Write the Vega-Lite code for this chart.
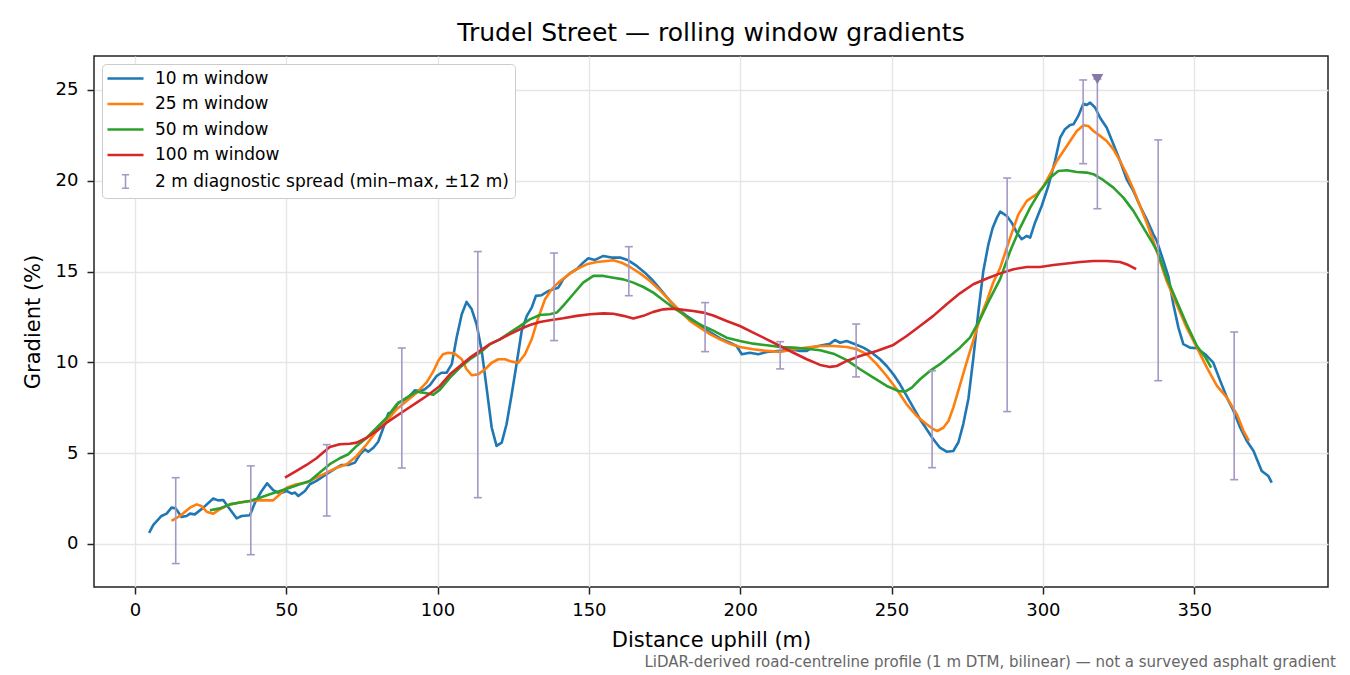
{
  "$schema": "https://vega.github.io/schema/vega-lite/v6.json",
  "padding": {"left": 21, "top": 20, "right": 14, "bottom": 4},
  "background": "white",
  "title": {
    "text": "LiDAR-derived road-centreline profile (1 m DTM, bilinear) — not a surveyed asphalt gradient",
    "orient": "bottom",
    "anchor": "end",
    "frame": "group",
    "fontSize": 15,
    "fontWeight": "normal",
    "color": "#666666",
    "dx": 8,
    "offset": 4
  },
  "datasets": {
    "lines": [
      {"s": "10 m window", "d": 4.7, "g": 0.61}, {"s": "10 m window", "d": 6.1, "g": 1.05}, {"s": "10 m window", "d": 8.8, "g": 1.54},
      {"s": "10 m window", "d": 10.5, "g": 1.67}, {"s": "10 m window", "d": 12.1, "g": 2.0}, {"s": "10 m window", "d": 13.5, "g": 1.96},
      {"s": "10 m window", "d": 15.4, "g": 1.49}, {"s": "10 m window", "d": 17.1, "g": 1.54}, {"s": "10 m window", "d": 18.2, "g": 1.67},
      {"s": "10 m window", "d": 19.8, "g": 1.63}, {"s": "10 m window", "d": 22.6, "g": 2.0}, {"s": "10 m window", "d": 25.9, "g": 2.5},
      {"s": "10 m window", "d": 27.5, "g": 2.4}, {"s": "10 m window", "d": 29.2, "g": 2.42}, {"s": "10 m window", "d": 31.4, "g": 1.91},
      {"s": "10 m window", "d": 33.6, "g": 1.41}, {"s": "10 m window", "d": 35.3, "g": 1.54}, {"s": "10 m window", "d": 38.0, "g": 1.58},
      {"s": "10 m window", "d": 39.7, "g": 2.28}, {"s": "10 m window", "d": 41.9, "g": 2.92}, {"s": "10 m window", "d": 43.7, "g": 3.34},
      {"s": "10 m window", "d": 45.7, "g": 2.96}, {"s": "10 m window", "d": 47.9, "g": 2.77}, {"s": "10 m window", "d": 50.1, "g": 2.92},
      {"s": "10 m window", "d": 51.8, "g": 2.77}, {"s": "10 m window", "d": 52.9, "g": 2.83}, {"s": "10 m window", "d": 54.0, "g": 2.64},
      {"s": "10 m window", "d": 56.2, "g": 2.92}, {"s": "10 m window", "d": 57.8, "g": 3.29}, {"s": "10 m window", "d": 60.0, "g": 3.47},
      {"s": "10 m window", "d": 63.3, "g": 3.84}, {"s": "10 m window", "d": 66.7, "g": 4.2}, {"s": "10 m window", "d": 68.3, "g": 4.35},
      {"s": "10 m window", "d": 70.5, "g": 4.35}, {"s": "10 m window", "d": 72.7, "g": 4.48}, {"s": "10 m window", "d": 74.4, "g": 4.94},
      {"s": "10 m window", "d": 76.0, "g": 5.21}, {"s": "10 m window", "d": 77.1, "g": 5.08}, {"s": "10 m window", "d": 78.8, "g": 5.3},
      {"s": "10 m window", "d": 80.4, "g": 5.63}, {"s": "10 m window", "d": 82.1, "g": 6.4}, {"s": "10 m window", "d": 83.7, "g": 7.18},
      {"s": "10 m window", "d": 85.4, "g": 7.29}, {"s": "10 m window", "d": 87.0, "g": 7.78}, {"s": "10 m window", "d": 88.7, "g": 7.91},
      {"s": "10 m window", "d": 90.3, "g": 8.06}, {"s": "10 m window", "d": 92.5, "g": 8.46}, {"s": "10 m window", "d": 94.2, "g": 8.42},
      {"s": "10 m window", "d": 95.8, "g": 8.52}, {"s": "10 m window", "d": 97.5, "g": 8.75}, {"s": "10 m window", "d": 99.7, "g": 9.25},
      {"s": "10 m window", "d": 101.3, "g": 9.43}, {"s": "10 m window", "d": 103.0, "g": 9.43}, {"s": "10 m window", "d": 104.7, "g": 9.9},
      {"s": "10 m window", "d": 106.3, "g": 11.36}, {"s": "10 m window", "d": 108.0, "g": 12.65}, {"s": "10 m window", "d": 109.6, "g": 13.33},
      {"s": "10 m window", "d": 111.3, "g": 12.92}, {"s": "10 m window", "d": 112.9, "g": 12.1}, {"s": "10 m window", "d": 114.6, "g": 10.63},
      {"s": "10 m window", "d": 116.2, "g": 8.61}, {"s": "10 m window", "d": 117.9, "g": 6.4}, {"s": "10 m window", "d": 119.5, "g": 5.4},
      {"s": "10 m window", "d": 121.2, "g": 5.58}, {"s": "10 m window", "d": 122.8, "g": 6.59}, {"s": "10 m window", "d": 124.5, "g": 8.24},
      {"s": "10 m window", "d": 126.1, "g": 9.9}, {"s": "10 m window", "d": 127.8, "g": 11.73}, {"s": "10 m window", "d": 129.5, "g": 12.56},
      {"s": "10 m window", "d": 131.1, "g": 13.01}, {"s": "10 m window", "d": 132.5, "g": 13.66}, {"s": "10 m window", "d": 134.4, "g": 13.7},
      {"s": "10 m window", "d": 136.6, "g": 13.93}, {"s": "10 m window", "d": 138.2, "g": 14.02}, {"s": "10 m window", "d": 139.9, "g": 14.11},
      {"s": "10 m window", "d": 141.5, "g": 14.57}, {"s": "10 m window", "d": 143.7, "g": 14.9}, {"s": "10 m window", "d": 146.0, "g": 15.13},
      {"s": "10 m window", "d": 148.1, "g": 15.49}, {"s": "10 m window", "d": 149.8, "g": 15.73}, {"s": "10 m window", "d": 152.0, "g": 15.64},
      {"s": "10 m window", "d": 154.8, "g": 15.86}, {"s": "10 m window", "d": 157.5, "g": 15.77}, {"s": "10 m window", "d": 160.3, "g": 15.77},
      {"s": "10 m window", "d": 163.0, "g": 15.62}, {"s": "10 m window", "d": 165.8, "g": 15.31}, {"s": "10 m window", "d": 168.5, "g": 14.94},
      {"s": "10 m window", "d": 171.3, "g": 14.48}, {"s": "10 m window", "d": 174.1, "g": 13.93}, {"s": "10 m window", "d": 176.8, "g": 13.38},
      {"s": "10 m window", "d": 179.5, "g": 12.92}, {"s": "10 m window", "d": 182.3, "g": 12.56}, {"s": "10 m window", "d": 185.6, "g": 12.19},
      {"s": "10 m window", "d": 188.4, "g": 11.82}, {"s": "10 m window", "d": 191.1, "g": 11.55}, {"s": "10 m window", "d": 193.9, "g": 11.27},
      {"s": "10 m window", "d": 196.6, "g": 11.08}, {"s": "10 m window", "d": 198.8, "g": 10.9}, {"s": "10 m window", "d": 200.5, "g": 10.45},
      {"s": "10 m window", "d": 203.2, "g": 10.53}, {"s": "10 m window", "d": 206.0, "g": 10.45}, {"s": "10 m window", "d": 208.8, "g": 10.57},
      {"s": "10 m window", "d": 213.2, "g": 10.63}, {"s": "10 m window", "d": 216.5, "g": 10.72}, {"s": "10 m window", "d": 219.8, "g": 10.63},
      {"s": "10 m window", "d": 222.0, "g": 10.63}, {"s": "10 m window", "d": 224.2, "g": 10.85}, {"s": "10 m window", "d": 227.5, "g": 10.96},
      {"s": "10 m window", "d": 229.7, "g": 11.03}, {"s": "10 m window", "d": 231.3, "g": 11.23}, {"s": "10 m window", "d": 233.0, "g": 11.08},
      {"s": "10 m window", "d": 235.2, "g": 11.18}, {"s": "10 m window", "d": 238.0, "g": 11.0}, {"s": "10 m window", "d": 240.7, "g": 10.81},
      {"s": "10 m window", "d": 243.5, "g": 10.53}, {"s": "10 m window", "d": 246.2, "g": 10.17}, {"s": "10 m window", "d": 248.4, "g": 9.8},
      {"s": "10 m window", "d": 250.6, "g": 9.34}, {"s": "10 m window", "d": 252.8, "g": 8.79}, {"s": "10 m window", "d": 255.0, "g": 8.15},
      {"s": "10 m window", "d": 257.2, "g": 7.51}, {"s": "10 m window", "d": 259.4, "g": 6.87}, {"s": "10 m window", "d": 261.6, "g": 6.32},
      {"s": "10 m window", "d": 263.8, "g": 5.77}, {"s": "10 m window", "d": 266.0, "g": 5.3}, {"s": "10 m window", "d": 268.2, "g": 5.08},
      {"s": "10 m window", "d": 270.4, "g": 5.12}, {"s": "10 m window", "d": 272.1, "g": 5.6}, {"s": "10 m window", "d": 273.7, "g": 6.6},
      {"s": "10 m window", "d": 275.4, "g": 8.0}, {"s": "10 m window", "d": 277.0, "g": 10.2}, {"s": "10 m window", "d": 278.7, "g": 12.8},
      {"s": "10 m window", "d": 280.3, "g": 15.0}, {"s": "10 m window", "d": 282.0, "g": 16.5}, {"s": "10 m window", "d": 283.4, "g": 17.4},
      {"s": "10 m window", "d": 284.9, "g": 18.0}, {"s": "10 m window", "d": 285.9, "g": 18.3}, {"s": "10 m window", "d": 288.1, "g": 18.06},
      {"s": "10 m window", "d": 289.7, "g": 17.69}, {"s": "10 m window", "d": 291.4, "g": 17.14}, {"s": "10 m window", "d": 293.0, "g": 16.78},
      {"s": "10 m window", "d": 294.7, "g": 16.96}, {"s": "10 m window", "d": 295.8, "g": 16.87}, {"s": "10 m window", "d": 297.4, "g": 17.69},
      {"s": "10 m window", "d": 299.6, "g": 18.61}, {"s": "10 m window", "d": 301.8, "g": 19.71}, {"s": "10 m window", "d": 304.0, "g": 21.09},
      {"s": "10 m window", "d": 305.7, "g": 22.37}, {"s": "10 m window", "d": 307.3, "g": 22.84}, {"s": "10 m window", "d": 309.0, "g": 23.07},
      {"s": "10 m window", "d": 310.1, "g": 23.11}, {"s": "10 m window", "d": 311.7, "g": 23.57}, {"s": "10 m window", "d": 313.4, "g": 24.25},
      {"s": "10 m window", "d": 314.5, "g": 24.17}, {"s": "10 m window", "d": 315.6, "g": 24.3}, {"s": "10 m window", "d": 317.3, "g": 24.02},
      {"s": "10 m window", "d": 318.9, "g": 23.47}, {"s": "10 m window", "d": 321.1, "g": 22.92}, {"s": "10 m window", "d": 323.3, "g": 22.01},
      {"s": "10 m window", "d": 325.5, "g": 21.09}, {"s": "10 m window", "d": 327.7, "g": 20.08}, {"s": "10 m window", "d": 329.9, "g": 19.44},
      {"s": "10 m window", "d": 332.1, "g": 18.61}, {"s": "10 m window", "d": 334.3, "g": 17.88}, {"s": "10 m window", "d": 336.5, "g": 17.05},
      {"s": "10 m window", "d": 337.6, "g": 16.7}, {"s": "10 m window", "d": 339.8, "g": 15.6}, {"s": "10 m window", "d": 341.5, "g": 14.7},
      {"s": "10 m window", "d": 343.1, "g": 13.2}, {"s": "10 m window", "d": 344.8, "g": 11.9}, {"s": "10 m window", "d": 346.4, "g": 11.0},
      {"s": "10 m window", "d": 348.6, "g": 10.81}, {"s": "10 m window", "d": 350.9, "g": 10.78}, {"s": "10 m window", "d": 353.6, "g": 10.45},
      {"s": "10 m window", "d": 356.3, "g": 9.98}, {"s": "10 m window", "d": 358.6, "g": 8.98}, {"s": "10 m window", "d": 360.8, "g": 8.06},
      {"s": "10 m window", "d": 363.0, "g": 7.32}, {"s": "10 m window", "d": 365.2, "g": 6.4}, {"s": "10 m window", "d": 367.4, "g": 5.67},
      {"s": "10 m window", "d": 369.6, "g": 5.12}, {"s": "10 m window", "d": 372.3, "g": 4.02}, {"s": "10 m window", "d": 374.5, "g": 3.74},
      {"s": "10 m window", "d": 375.6, "g": 3.38},

      {"s": "25 m window", "d": 12.1, "g": 1.27}, {"s": "25 m window", "d": 14.9, "g": 1.54}, {"s": "25 m window", "d": 18.2, "g": 2.0},
      {"s": "25 m window", "d": 20.4, "g": 2.18}, {"s": "25 m window", "d": 22.0, "g": 2.09}, {"s": "25 m window", "d": 23.7, "g": 1.78},
      {"s": "25 m window", "d": 25.9, "g": 1.67}, {"s": "25 m window", "d": 28.1, "g": 1.91}, {"s": "25 m window", "d": 31.4, "g": 2.18},
      {"s": "25 m window", "d": 34.7, "g": 2.28}, {"s": "25 m window", "d": 38.0, "g": 2.37}, {"s": "25 m window", "d": 41.3, "g": 2.4},
      {"s": "25 m window", "d": 45.7, "g": 2.4}, {"s": "25 m window", "d": 47.9, "g": 2.74}, {"s": "25 m window", "d": 50.1, "g": 3.1},
      {"s": "25 m window", "d": 53.4, "g": 3.29}, {"s": "25 m window", "d": 56.7, "g": 3.38}, {"s": "25 m window", "d": 60.0, "g": 3.65},
      {"s": "25 m window", "d": 63.4, "g": 3.93}, {"s": "25 m window", "d": 66.7, "g": 4.2}, {"s": "25 m window", "d": 70.0, "g": 4.39},
      {"s": "25 m window", "d": 73.3, "g": 4.85}, {"s": "25 m window", "d": 76.6, "g": 5.49}, {"s": "25 m window", "d": 79.9, "g": 6.22},
      {"s": "25 m window", "d": 83.2, "g": 6.77}, {"s": "25 m window", "d": 86.5, "g": 7.42}, {"s": "25 m window", "d": 89.8, "g": 7.87},
      {"s": "25 m window", "d": 93.1, "g": 8.33}, {"s": "25 m window", "d": 96.4, "g": 8.9}, {"s": "25 m window", "d": 98.6, "g": 9.5},
      {"s": "25 m window", "d": 100.3, "g": 10.1}, {"s": "25 m window", "d": 101.8, "g": 10.45}, {"s": "25 m window", "d": 103.5, "g": 10.53},
      {"s": "25 m window", "d": 105.7, "g": 10.48}, {"s": "25 m window", "d": 108.0, "g": 10.17}, {"s": "25 m window", "d": 109.6, "g": 9.62},
      {"s": "25 m window", "d": 111.3, "g": 9.29}, {"s": "25 m window", "d": 113.4, "g": 9.34}, {"s": "25 m window", "d": 115.7, "g": 9.62},
      {"s": "25 m window", "d": 117.9, "g": 9.98}, {"s": "25 m window", "d": 120.1, "g": 10.17}, {"s": "25 m window", "d": 122.3, "g": 10.17},
      {"s": "25 m window", "d": 124.5, "g": 10.04}, {"s": "25 m window", "d": 126.7, "g": 9.98}, {"s": "25 m window", "d": 128.9, "g": 10.45},
      {"s": "25 m window", "d": 131.1, "g": 11.27}, {"s": "25 m window", "d": 133.3, "g": 12.46}, {"s": "25 m window", "d": 135.5, "g": 13.47},
      {"s": "25 m window", "d": 137.7, "g": 14.02}, {"s": "25 m window", "d": 139.9, "g": 14.39}, {"s": "25 m window", "d": 142.7, "g": 14.76},
      {"s": "25 m window", "d": 146.0, "g": 15.13}, {"s": "25 m window", "d": 149.3, "g": 15.4}, {"s": "25 m window", "d": 152.6, "g": 15.53},
      {"s": "25 m window", "d": 155.9, "g": 15.58}, {"s": "25 m window", "d": 158.1, "g": 15.62}, {"s": "25 m window", "d": 160.8, "g": 15.49},
      {"s": "25 m window", "d": 163.6, "g": 15.25}, {"s": "25 m window", "d": 166.9, "g": 14.9}, {"s": "25 m window", "d": 170.2, "g": 14.48},
      {"s": "25 m window", "d": 173.5, "g": 13.97}, {"s": "25 m window", "d": 176.8, "g": 13.38}, {"s": "25 m window", "d": 180.1, "g": 12.83},
      {"s": "25 m window", "d": 183.4, "g": 12.28}, {"s": "25 m window", "d": 186.7, "g": 11.91}, {"s": "25 m window", "d": 190.0, "g": 11.55},
      {"s": "25 m window", "d": 193.3, "g": 11.27}, {"s": "25 m window", "d": 196.6, "g": 11.02}, {"s": "25 m window", "d": 199.9, "g": 10.85},
      {"s": "25 m window", "d": 204.3, "g": 10.72}, {"s": "25 m window", "d": 208.8, "g": 10.63}, {"s": "25 m window", "d": 213.2, "g": 10.57},
      {"s": "25 m window", "d": 217.6, "g": 10.72}, {"s": "25 m window", "d": 222.0, "g": 10.81}, {"s": "25 m window", "d": 226.4, "g": 10.9},
      {"s": "25 m window", "d": 230.8, "g": 10.9}, {"s": "25 m window", "d": 235.2, "g": 10.85}, {"s": "25 m window", "d": 238.5, "g": 10.72},
      {"s": "25 m window", "d": 241.8, "g": 10.45}, {"s": "25 m window", "d": 245.1, "g": 9.9}, {"s": "25 m window", "d": 248.4, "g": 9.25},
      {"s": "25 m window", "d": 251.7, "g": 8.52}, {"s": "25 m window", "d": 255.0, "g": 7.69}, {"s": "25 m window", "d": 258.3, "g": 7.05},
      {"s": "25 m window", "d": 261.6, "g": 6.59}, {"s": "25 m window", "d": 263.8, "g": 6.32}, {"s": "25 m window", "d": 265.1, "g": 6.22},
      {"s": "25 m window", "d": 267.1, "g": 6.4}, {"s": "25 m window", "d": 268.8, "g": 6.77}, {"s": "25 m window", "d": 270.4, "g": 7.51},
      {"s": "25 m window", "d": 272.6, "g": 8.75}, {"s": "25 m window", "d": 274.8, "g": 10.0}, {"s": "25 m window", "d": 277.0, "g": 11.2},
      {"s": "25 m window", "d": 279.2, "g": 12.4}, {"s": "25 m window", "d": 281.5, "g": 13.4}, {"s": "25 m window", "d": 283.6, "g": 14.4},
      {"s": "25 m window", "d": 285.9, "g": 15.21}, {"s": "25 m window", "d": 289.2, "g": 16.87}, {"s": "25 m window", "d": 291.9, "g": 18.15},
      {"s": "25 m window", "d": 294.7, "g": 18.89}, {"s": "25 m window", "d": 298.0, "g": 19.26}, {"s": "25 m window", "d": 300.2, "g": 19.71},
      {"s": "25 m window", "d": 302.4, "g": 20.36}, {"s": "25 m window", "d": 304.6, "g": 21.09}, {"s": "25 m window", "d": 306.8, "g": 21.64},
      {"s": "25 m window", "d": 309.0, "g": 22.19}, {"s": "25 m window", "d": 311.2, "g": 22.74}, {"s": "25 m window", "d": 313.4, "g": 23.06},
      {"s": "25 m window", "d": 315.0, "g": 23.02}, {"s": "25 m window", "d": 316.7, "g": 22.74}, {"s": "25 m window", "d": 318.9, "g": 22.47},
      {"s": "25 m window", "d": 321.1, "g": 22.19}, {"s": "25 m window", "d": 323.3, "g": 21.73}, {"s": "25 m window", "d": 325.5, "g": 21.09},
      {"s": "25 m window", "d": 327.7, "g": 20.36}, {"s": "25 m window", "d": 329.9, "g": 19.53}, {"s": "25 m window", "d": 332.1, "g": 18.61},
      {"s": "25 m window", "d": 334.3, "g": 17.69}, {"s": "25 m window", "d": 336.5, "g": 16.68}, {"s": "25 m window", "d": 338.7, "g": 15.58},
      {"s": "25 m window", "d": 340.9, "g": 14.48}, {"s": "25 m window", "d": 344.2, "g": 13.2}, {"s": "25 m window", "d": 347.5, "g": 11.91},
      {"s": "25 m window", "d": 350.9, "g": 10.81}, {"s": "25 m window", "d": 354.2, "g": 9.71}, {"s": "25 m window", "d": 357.5, "g": 8.7},
      {"s": "25 m window", "d": 360.8, "g": 8.06}, {"s": "25 m window", "d": 364.1, "g": 7.14}, {"s": "25 m window", "d": 366.3, "g": 6.22},
      {"s": "25 m window", "d": 368.1, "g": 5.67},

      {"s": "50 m window", "d": 24.8, "g": 1.86}, {"s": "50 m window", "d": 28.1, "g": 1.96}, {"s": "50 m window", "d": 31.4, "g": 2.18},
      {"s": "50 m window", "d": 34.7, "g": 2.28}, {"s": "50 m window", "d": 38.0, "g": 2.37}, {"s": "50 m window", "d": 41.3, "g": 2.55},
      {"s": "50 m window", "d": 44.6, "g": 2.74}, {"s": "50 m window", "d": 47.9, "g": 2.92}, {"s": "50 m window", "d": 51.2, "g": 3.1},
      {"s": "50 m window", "d": 54.5, "g": 3.29}, {"s": "50 m window", "d": 57.8, "g": 3.47}, {"s": "50 m window", "d": 61.1, "g": 3.93},
      {"s": "50 m window", "d": 64.4, "g": 4.39}, {"s": "50 m window", "d": 67.7, "g": 4.72}, {"s": "50 m window", "d": 70.5, "g": 4.94},
      {"s": "50 m window", "d": 73.3, "g": 5.4}, {"s": "50 m window", "d": 76.6, "g": 5.85}, {"s": "50 m window", "d": 79.9, "g": 6.4},
      {"s": "50 m window", "d": 83.2, "g": 6.95}, {"s": "50 m window", "d": 86.5, "g": 7.69}, {"s": "50 m window", "d": 89.8, "g": 8.06},
      {"s": "50 m window", "d": 93.1, "g": 8.39}, {"s": "50 m window", "d": 96.4, "g": 8.3}, {"s": "50 m window", "d": 98.6, "g": 8.22},
      {"s": "50 m window", "d": 100.8, "g": 8.5}, {"s": "50 m window", "d": 104.1, "g": 9.16}, {"s": "50 m window", "d": 107.4, "g": 9.71},
      {"s": "50 m window", "d": 110.7, "g": 10.17}, {"s": "50 m window", "d": 114.0, "g": 10.53}, {"s": "50 m window", "d": 117.3, "g": 11.0},
      {"s": "50 m window", "d": 120.6, "g": 11.27}, {"s": "50 m window", "d": 123.9, "g": 11.64}, {"s": "50 m window", "d": 127.2, "g": 12.0},
      {"s": "50 m window", "d": 130.5, "g": 12.37}, {"s": "50 m window", "d": 133.8, "g": 12.61}, {"s": "50 m window", "d": 137.1, "g": 12.65},
      {"s": "50 m window", "d": 139.4, "g": 12.74}, {"s": "50 m window", "d": 141.5, "g": 13.11}, {"s": "50 m window", "d": 144.8, "g": 13.75},
      {"s": "50 m window", "d": 148.1, "g": 14.39}, {"s": "50 m window", "d": 151.5, "g": 14.76}, {"s": "50 m window", "d": 154.8, "g": 14.76},
      {"s": "50 m window", "d": 158.1, "g": 14.66}, {"s": "50 m window", "d": 161.4, "g": 14.57}, {"s": "50 m window", "d": 164.7, "g": 14.39},
      {"s": "50 m window", "d": 168.0, "g": 14.15}, {"s": "50 m window", "d": 171.3, "g": 13.84}, {"s": "50 m window", "d": 174.6, "g": 13.42},
      {"s": "50 m window", "d": 177.9, "g": 13.01}, {"s": "50 m window", "d": 181.2, "g": 12.65}, {"s": "50 m window", "d": 184.5, "g": 12.28},
      {"s": "50 m window", "d": 187.8, "g": 12.0}, {"s": "50 m window", "d": 191.1, "g": 11.75}, {"s": "50 m window", "d": 195.5, "g": 11.36},
      {"s": "50 m window", "d": 199.9, "g": 11.18}, {"s": "50 m window", "d": 204.3, "g": 11.03}, {"s": "50 m window", "d": 208.8, "g": 10.94},
      {"s": "50 m window", "d": 213.2, "g": 10.85}, {"s": "50 m window", "d": 217.6, "g": 10.81}, {"s": "50 m window", "d": 222.0, "g": 10.75},
      {"s": "50 m window", "d": 226.4, "g": 10.67}, {"s": "50 m window", "d": 230.8, "g": 10.48}, {"s": "50 m window", "d": 235.2, "g": 10.12},
      {"s": "50 m window", "d": 239.6, "g": 9.62}, {"s": "50 m window", "d": 244.0, "g": 9.16}, {"s": "50 m window", "d": 248.4, "g": 8.7},
      {"s": "50 m window", "d": 252.3, "g": 8.42}, {"s": "50 m window", "d": 254.5, "g": 8.39}, {"s": "50 m window", "d": 256.7, "g": 8.61},
      {"s": "50 m window", "d": 259.4, "g": 9.07}, {"s": "50 m window", "d": 262.7, "g": 9.53}, {"s": "50 m window", "d": 266.0, "g": 9.9},
      {"s": "50 m window", "d": 269.3, "g": 10.35}, {"s": "50 m window", "d": 272.6, "g": 10.81}, {"s": "50 m window", "d": 275.9, "g": 11.36},
      {"s": "50 m window", "d": 279.2, "g": 12.35}, {"s": "50 m window", "d": 282.5, "g": 13.5}, {"s": "50 m window", "d": 285.9, "g": 14.6},
      {"s": "50 m window", "d": 289.2, "g": 16.13}, {"s": "50 m window", "d": 292.5, "g": 17.42}, {"s": "50 m window", "d": 295.8, "g": 18.52},
      {"s": "50 m window", "d": 299.1, "g": 19.44}, {"s": "50 m window", "d": 302.4, "g": 20.17}, {"s": "50 m window", "d": 305.1, "g": 20.54},
      {"s": "50 m window", "d": 307.9, "g": 20.58}, {"s": "50 m window", "d": 311.2, "g": 20.48}, {"s": "50 m window", "d": 314.5, "g": 20.45},
      {"s": "50 m window", "d": 316.7, "g": 20.36}, {"s": "50 m window", "d": 320.0, "g": 20.03}, {"s": "50 m window", "d": 323.3, "g": 19.62},
      {"s": "50 m window", "d": 326.6, "g": 19.07}, {"s": "50 m window", "d": 329.9, "g": 18.34}, {"s": "50 m window", "d": 333.2, "g": 17.42},
      {"s": "50 m window", "d": 336.5, "g": 16.5}, {"s": "50 m window", "d": 338.1, "g": 16.0}, {"s": "50 m window", "d": 340.9, "g": 14.66},
      {"s": "50 m window", "d": 344.2, "g": 13.38}, {"s": "50 m window", "d": 347.5, "g": 12.1}, {"s": "50 m window", "d": 350.9, "g": 10.9},
      {"s": "50 m window", "d": 353.6, "g": 10.3}, {"s": "50 m window", "d": 355.6, "g": 9.71},

      {"s": "100 m window", "d": 49.6, "g": 3.65}, {"s": "100 m window", "d": 53.4, "g": 4.02}, {"s": "100 m window", "d": 56.7, "g": 4.35},
      {"s": "100 m window", "d": 60.0, "g": 4.72}, {"s": "100 m window", "d": 62.2, "g": 5.03}, {"s": "100 m window", "d": 64.4, "g": 5.34},
      {"s": "100 m window", "d": 67.7, "g": 5.49}, {"s": "100 m window", "d": 71.0, "g": 5.52}, {"s": "100 m window", "d": 73.3, "g": 5.58},
      {"s": "100 m window", "d": 76.6, "g": 5.85}, {"s": "100 m window", "d": 79.9, "g": 6.22}, {"s": "100 m window", "d": 83.2, "g": 6.68},
      {"s": "100 m window", "d": 86.5, "g": 7.05}, {"s": "100 m window", "d": 89.8, "g": 7.42}, {"s": "100 m window", "d": 93.1, "g": 7.78},
      {"s": "100 m window", "d": 96.4, "g": 8.15}, {"s": "100 m window", "d": 100.8, "g": 8.7}, {"s": "100 m window", "d": 104.1, "g": 9.34},
      {"s": "100 m window", "d": 107.4, "g": 9.8}, {"s": "100 m window", "d": 110.7, "g": 10.26}, {"s": "100 m window", "d": 114.0, "g": 10.63},
      {"s": "100 m window", "d": 117.3, "g": 11.0}, {"s": "100 m window", "d": 120.6, "g": 11.27}, {"s": "100 m window", "d": 123.9, "g": 11.55},
      {"s": "100 m window", "d": 127.2, "g": 11.82}, {"s": "100 m window", "d": 130.5, "g": 12.06}, {"s": "100 m window", "d": 133.8, "g": 12.22},
      {"s": "100 m window", "d": 137.1, "g": 12.32}, {"s": "100 m window", "d": 141.5, "g": 12.43}, {"s": "100 m window", "d": 146.0, "g": 12.56},
      {"s": "100 m window", "d": 150.4, "g": 12.65}, {"s": "100 m window", "d": 154.8, "g": 12.7}, {"s": "100 m window", "d": 158.1, "g": 12.68},
      {"s": "100 m window", "d": 161.4, "g": 12.56}, {"s": "100 m window", "d": 164.7, "g": 12.41}, {"s": "100 m window", "d": 168.0, "g": 12.56},
      {"s": "100 m window", "d": 171.3, "g": 12.78}, {"s": "100 m window", "d": 174.6, "g": 12.92}, {"s": "100 m window", "d": 177.9, "g": 12.96},
      {"s": "100 m window", "d": 181.2, "g": 12.89}, {"s": "100 m window", "d": 184.5, "g": 12.83}, {"s": "100 m window", "d": 187.8, "g": 12.74},
      {"s": "100 m window", "d": 191.1, "g": 12.58}, {"s": "100 m window", "d": 195.5, "g": 12.28}, {"s": "100 m window", "d": 199.9, "g": 12.0},
      {"s": "100 m window", "d": 204.3, "g": 11.64}, {"s": "100 m window", "d": 208.8, "g": 11.27}, {"s": "100 m window", "d": 213.2, "g": 10.9},
      {"s": "100 m window", "d": 217.6, "g": 10.53}, {"s": "100 m window", "d": 222.0, "g": 10.17}, {"s": "100 m window", "d": 226.4, "g": 9.86},
      {"s": "100 m window", "d": 229.7, "g": 9.75}, {"s": "100 m window", "d": 231.9, "g": 9.8}, {"s": "100 m window", "d": 235.2, "g": 10.08},
      {"s": "100 m window", "d": 239.6, "g": 10.35}, {"s": "100 m window", "d": 245.1, "g": 10.63}, {"s": "100 m window", "d": 250.6, "g": 10.96},
      {"s": "100 m window", "d": 255.0, "g": 11.45}, {"s": "100 m window", "d": 259.4, "g": 12.0}, {"s": "100 m window", "d": 263.8, "g": 12.56},
      {"s": "100 m window", "d": 268.2, "g": 13.2}, {"s": "100 m window", "d": 272.6, "g": 13.8}, {"s": "100 m window", "d": 277.0, "g": 14.3},
      {"s": "100 m window", "d": 281.5, "g": 14.62}, {"s": "100 m window", "d": 285.9, "g": 14.9}, {"s": "100 m window", "d": 290.3, "g": 15.13},
      {"s": "100 m window", "d": 294.7, "g": 15.25}, {"s": "100 m window", "d": 299.1, "g": 15.25}, {"s": "100 m window", "d": 303.5, "g": 15.36},
      {"s": "100 m window", "d": 307.9, "g": 15.44}, {"s": "100 m window", "d": 312.3, "g": 15.53}, {"s": "100 m window", "d": 316.7, "g": 15.58},
      {"s": "100 m window", "d": 321.1, "g": 15.58}, {"s": "100 m window", "d": 325.5, "g": 15.53}, {"s": "100 m window", "d": 328.3, "g": 15.36},
      {"s": "100 m window", "d": 330.8, "g": 15.13}
    ],
    "spread": [
      {"d": 13.5, "lo": -1.08, "hi": 3.65}, {"d": 38.3, "lo": -0.59, "hi": 4.3}, {"d": 63.4, "lo": 1.54, "hi": 5.47},
      {"d": 88.2, "lo": 4.18, "hi": 10.79}, {"d": 113.3, "lo": 2.55, "hi": 16.1}, {"d": 138.5, "lo": 11.2, "hi": 16.02},
      {"d": 163.2, "lo": 13.67, "hi": 16.37}, {"d": 188.4, "lo": 10.59, "hi": 13.29}, {"d": 213.2, "lo": 9.64, "hi": 11.14},
      {"d": 238.3, "lo": 9.2, "hi": 12.11}, {"d": 263.4, "lo": 4.2, "hi": 9.54}, {"d": 288.2, "lo": 7.29, "hi": 20.15},
      {"d": 313.3, "lo": 20.94, "hi": 25.55}, {"d": 318.0, "lo": 18.46, "hi": 25.6}, {"d": 338.1, "lo": 8.99, "hi": 22.25},
      {"d": 363.2, "lo": 3.54, "hi": 11.67}
    ],
    "peak": [
      {"d": 318.0, "g": 25.6}
    ]
  },
  "vconcat": [
    {
      "width": 1234,
      "height": 531,
      "title": {
        "text": "Trudel Street — rolling window gradients",
        "anchor": "middle",
        "frame": "group",
        "fontSize": 25,
        "fontWeight": "normal",
        "color": "black",
        "offset": 10
      },
      "layer": [
        {
          "data": {"name": "lines"},
          "mark": {"type": "line", "strokeWidth": 2.6, "strokeJoin": "round"},
          "encoding": {
            "x": {
              "field": "d",
              "type": "quantitative",
              "scale": {"domain": [-13.5, 394.2], "nice": false, "zero": false},
              "axis": {"title": "Distance uphill (m)", "values": [0, 50, 100, 150, 200, 250, 300, 350]}
            },
            "y": {
              "field": "g",
              "type": "quantitative",
              "scale": {"domain": [-2.37, 26.87], "nice": false, "zero": false},
              "axis": {"title": "Gradient (%)", "values": [0, 5, 10, 15, 20, 25]}
            },
            "color": {
              "field": "s",
              "type": "nominal",
              "scale": {
                "domain": ["10 m window", "25 m window", "50 m window", "100 m window", "2 m diagnostic spread (min–max, ±12 m)"],
                "range": ["#1f77b4", "#ff7f0e", "#2ca02c", "#d62728", "#a598c5"]
              },
              "legend": {
                "title": null,
                "orient": "top-left",
                "offset": 8,
                "padding": 6,
                "fillColor": "white",
                "strokeColor": "#cccccc",
                "cornerRadius": 4,
                "labelFontSize": 17,
                "labelColor": "black",
                "labelLimit": 500,
                "labelOffset": 30,
                "rowPadding": 7.5,
                "symbolSize": 324,
                "symbolStrokeWidth": 2.6,
                "symbolType": "M-1,0H3",
                "encode": {
                  "symbols": {
                    "update": {
                      "shape": {"signal": "datum.index === 4 ? 'M1,-0.75V0.75M0.6,-0.75H1.4M0.6,0.75H1.4' : 'M-1,0H3'"},
                      "strokeWidth": {"signal": "datum.index === 4 ? 1.6 : 2.6"}
                    }
                  }
                }
              }
            }
          }
        },
        {
          "data": {"name": "spread"},
          "mark": {"type": "rule", "strokeWidth": 1.6},
          "encoding": {
            "x": {"field": "d", "type": "quantitative"},
            "y": {"field": "lo", "type": "quantitative"},
            "y2": {"field": "hi"},
            "color": {"datum": "2 m diagnostic spread (min–max, ±12 m)"}
          }
        },
        {
          "data": {"name": "spread"},
          "mark": {"type": "tick", "orient": "horizontal", "size": 8, "thickness": 1.6, "color": "#a598c5", "opacity": 1},
          "encoding": {
            "x": {"field": "d", "type": "quantitative"},
            "y": {"field": "lo", "type": "quantitative"}
          }
        },
        {
          "data": {"name": "spread"},
          "mark": {"type": "tick", "orient": "horizontal", "size": 8, "thickness": 1.6, "color": "#a598c5", "opacity": 1},
          "encoding": {
            "x": {"field": "d", "type": "quantitative"},
            "y": {"field": "hi", "type": "quantitative"}
          }
        },
        {
          "data": {"name": "peak"},
          "mark": {"type": "point", "shape": "triangle-down", "filled": true, "size": 140, "color": "#8577a9", "opacity": 1},
          "encoding": {
            "x": {"field": "d", "type": "quantitative"},
            "y": {"field": "g", "type": "quantitative"}
          }
        }
      ]
    }
  ],
  "config": {
    "font": "DejaVu Sans",
    "view": {"stroke": "#222222", "strokeWidth": 1.5},
    "axis": {
      "domain": false,
      "grid": true,
      "gridColor": "#e6e6e6",
      "gridWidth": 1.4,
      "ticks": true,
      "tickColor": "#222222",
      "tickSize": 7,
      "tickWidth": 1.5,
      "labelFontSize": 18,
      "labelColor": "black",
      "labelPadding": 7,
      "titleFontSize": 21,
      "titleFontWeight": "normal",
      "titleColor": "black"
    },
    "axisX": {"titlePadding": 10, "labelFlush": false},
    "axisY": {"titlePadding": 12, "labelPadding": 9}
  }
}
